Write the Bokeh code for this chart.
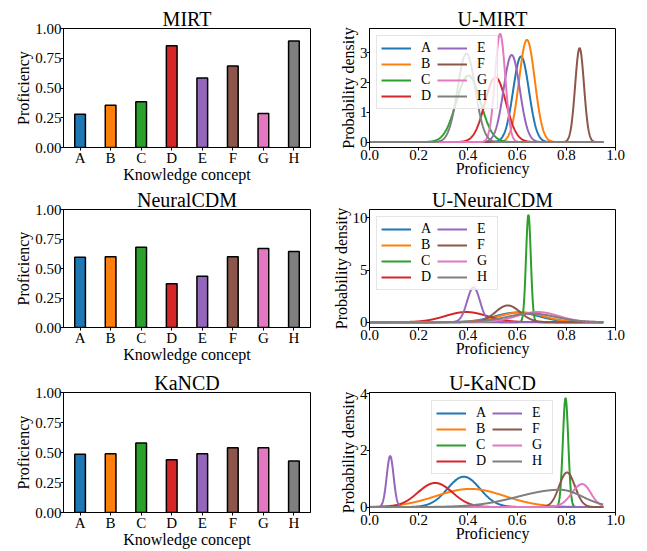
import numpy as np
from bokeh.plotting import figure
from bokeh.models import Range1d, FixedTicker, PrintfTickFormatter
from bokeh.layouts import column, row
from bokeh.embed import file_html
from bokeh.resources import INLINE

FONT = "Liberation Serif"

concepts = ["A", "B", "C", "D", "E", "F", "G", "H"]
colors = ["#1f77b4", "#ff7f0e", "#2ca02c", "#d62728",
          "#9467bd", "#8c564b", "#e377c2", "#7f7f7f"]

# Bar charts: proficiency per knowledge concept
mirt = [0.28, 0.355, 0.385, 0.855, 0.585, 0.685, 0.285, 0.895]
neuralcdm = [0.595, 0.60, 0.68, 0.37, 0.435, 0.60, 0.67, 0.645]
kancd = [0.485, 0.49, 0.58, 0.44, 0.49, 0.54, 0.54, 0.43]

# Density curves: centre, peak height, left / right spread
umirt_mu = [0.616, 0.640, 0.402, 0.512, 0.578, 0.854, 0.531, 0.394]
umirt_pk = [2.88, 3.44, 2.24, 2.18, 2.93, 3.16, 3.64, 2.98]
umirt_sl = [0.032, 0.032, 0.049, 0.043, 0.033, 0.018, 0.021, 0.036]
umirt_sr = [0.032, 0.032, 0.049, 0.043, 0.033, 0.018, 0.021, 0.036]

uncdm_mu = [0.600, 0.616, 0.646, 0.393, 0.423, 0.562, 0.684, 0.657]
uncdm_pk = [0.92, 0.94, 10.3, 0.97, 3.35, 1.60, 0.97, 0.82]
uncdm_sl = [0.090, 0.090, 0.0098, 0.085, 0.026, 0.050, 0.085, 0.100]
uncdm_sr = [0.090, 0.090, 0.0098, 0.085, 0.026, 0.050, 0.085, 0.100]

ukancd_mu = [0.383, 0.410, 0.797, 0.267, 0.084, 0.803, 0.865, 0.775]
ukancd_pk = [1.07, 0.64, 3.85, 0.85, 1.80, 1.22, 0.81, 0.61]
ukancd_sl = [0.066, 0.140, 0.011, 0.070, 0.014, 0.032, 0.043, 0.170]
ukancd_sr = [0.066, 0.140, 0.011, 0.070, 0.014, 0.032, 0.035, 0.090]

bar_yticks = [0, 0.25, 0.5, 0.75, 1.0]
dens_xticks = [0, 0.2, 0.4, 0.6, 0.8, 1.0]
umirt_yticks = [0, 1, 2, 3]
uncdm_yticks = [0, 5, 10]
ukancd_yticks = [0, 2, 4]


def style(p, title):
    for ax in (p.xaxis[0], p.yaxis[0]):
        ax.axis_line_color = "black"
        ax.major_tick_line_color = "black"
        ax.minor_tick_line_color = None
        ax.major_tick_out = 3
        ax.major_tick_in = 0
        ax.major_label_text_font = FONT
        ax.major_label_text_font_size = "15px"
        ax.major_label_text_color = "black"
        ax.major_label_standoff = -1
        ax.axis_label_text_font = FONT
        ax.axis_label_text_font_size = "16px"
        ax.axis_label_text_font_style = "normal"
        ax.axis_label_text_color = "black"
    p.xaxis.axis_label_standoff = -3
    p.yaxis.axis_label_standoff = 0
    p.xgrid.visible = False
    p.ygrid.visible = False
    p.outline_line_color = "black"
    p.outline_line_alpha = 1
    p.outline_line_width = 1
    p.title.text = title
    p.title.align = "center"
    p.title.text_font = FONT
    p.title.text_font_size = "20px"
    p.title.text_font_style = "normal"
    p.title.text_color = "black"
    p.title.standoff = -2


def bar_fig(title, values, top, fh, bottom):
    idx = np.arange(len(concepts))
    lo = -0.175 - 0.05 * 7.35
    hi = 7.175 + 0.05 * 7.35
    p = figure(width=320, height=top + fh + bottom,
               x_range=Range1d(lo, hi), y_range=Range1d(0, 1),
               output_backend="svg", toolbar_location=None,
               min_border_left=63, min_border_right=10,
               min_border_top=top, min_border_bottom=bottom)
    p.vbar(x=idx, top=values, width=0.35, bottom=0,
           fill_color=colors, line_color="black", line_width=1.5)
    style(p, title)
    p.xaxis.ticker = FixedTicker(ticks=list(idx))
    p.xaxis.major_label_overrides = {int(i): c for i, c in zip(idx, concepts)}
    p.yaxis.ticker = FixedTicker(ticks=bar_yticks)
    p.yaxis.formatter = PrintfTickFormatter(format="%.2f")
    p.xaxis.axis_label = "Knowledge concept"
    p.yaxis.axis_label = "Proficiency"
    return p


def dens_fig(title, mus, pks, sls, srs, yticks, top, fh, bottom, loc, margin):
    ymax = max(pks)
    p = figure(width=327, height=top + fh + bottom,
               x_range=Range1d(0, 1),
               y_range=Range1d(-0.05 * ymax, 1.05 * ymax),
               output_backend="svg", toolbar_location=None,
               min_border_left=49, min_border_right=32,
               min_border_top=top, min_border_bottom=bottom)
    x = np.linspace(0, 0.95, 800)
    for i, c in enumerate(concepts):
        s = np.where(x < mus[i], sls[i], srs[i])
        y = pks[i] * np.exp(-0.5 * ((x - mus[i]) / s) ** 2)
        p.line(x, y, line_color=colors[i], line_width=2, legend_label=c)
    style(p, title)
    p.xaxis.ticker = FixedTicker(ticks=dens_xticks)
    p.xaxis.formatter = PrintfTickFormatter(format="%.1f")
    p.yaxis.ticker = FixedTicker(ticks=yticks)
    p.yaxis.formatter = PrintfTickFormatter(format="%d")
    p.xaxis.axis_label = "Proficiency"
    p.yaxis.axis_label = "Probability density"
    lg = p.legend[0]
    lg.location = loc
    lg.orientation = "vertical"
    lg.nrows = 4
    lg.label_text_font = FONT
    lg.label_text_font_size = "14px"
    lg.label_text_color = "black"
    lg.glyph_width = 30
    lg.glyph_height = 14
    lg.label_height = 14
    lg.label_width = 16
    lg.label_standoff = 10
    lg.spacing = 0
    lg.padding = 4
    lg.margin = margin
    lg.border_line_color = "#cccccc"
    lg.border_line_width = 1
    lg.background_fill_alpha = 0.8
    return p


f1 = bar_fig("MIRT", mirt, 28, 119, 38)
f2 = dens_fig("U-MIRT", umirt_mu, umirt_pk, umirt_sl, umirt_sr, umirt_yticks,
              25, 122, 38, "top_left", 7)
f3 = bar_fig("NeuralCDM", neuralcdm, 24, 120, 39)
f4 = dens_fig("U-NeuralCDM", uncdm_mu, uncdm_pk, uncdm_sl, uncdm_sr, uncdm_yticks,
              22, 120, 41, "top_left", 7)
f5 = bar_fig("KaNCD", kancd, 24, 121, 37)
f6 = dens_fig("U-KaNCD", ukancd_mu, ukancd_pk, ukancd_sl, ukancd_sr, ukancd_yticks,
              23, 121, 38, "top_center", 8)

layout = column(row(f1, f2), row(f3, f4), row(f5, f6))

with open("out.html", "w") as fh:
    fh.write(file_html(layout, INLINE))
